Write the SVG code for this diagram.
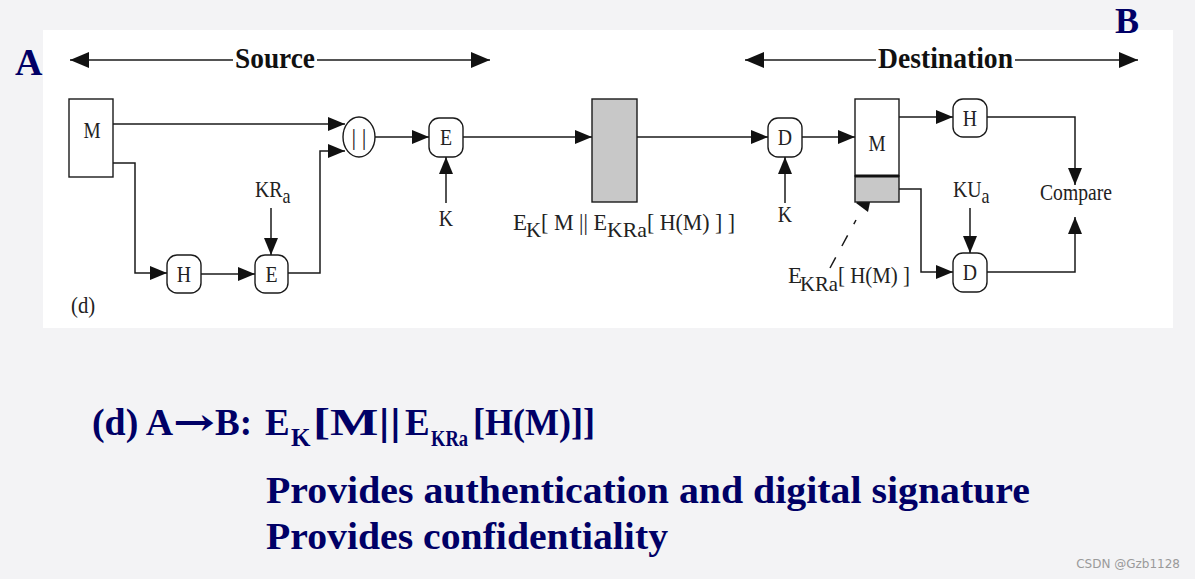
<svg xmlns="http://www.w3.org/2000/svg" width="1195" height="579" viewBox="0 0 1195 579">
<style>
.bg{fill:#f3f3f5}
.panel{fill:#ffffff}
.conn{fill:none;stroke:#1a1a1a;stroke-width:1.5}
.arr{marker-end:url(#ah)}
.node{fill:#ffffff;stroke:#1a1a1a;stroke-width:1.4}
.grey{fill:#c8c8c8;stroke:#1a1a1a;stroke-width:1.4}
.lbl{font-family:"Liberation Serif","Times New Roman",serif;font-size:23px;fill:#222}
.sub{font-size:21px}
.hdr{font-family:"Liberation Serif","Times New Roman",serif;font-size:30px;font-weight:bold;fill:#111}
.nv{font-family:"Liberation Serif","Times New Roman",serif;font-weight:bold;fill:#000066}
.mid{text-anchor:middle}
</style>
<defs>
<marker id="ah" markerUnits="userSpaceOnUse" markerWidth="17" markerHeight="14" refX="17" refY="7" orient="auto">
<path d="M0,0 L17,7 L0,14 z" fill="#111"/>
</marker>
<marker id="ahb" markerUnits="userSpaceOnUse" markerWidth="20" markerHeight="16" refX="19" refY="8" orient="auto-start-reverse">
<path d="M0,0 L19,8 L0,16 z" fill="#111"/>
</marker>
</defs>
<rect class="bg" x="0" y="0" width="1195" height="579"/>
<rect class="panel" x="43" y="30" width="1130" height="298"/>

<text class="nv" x="15" y="75" font-size="38">A</text>
<text class="nv" x="1115" y="33" font-size="36">B</text>

<g id="headers">
<line class="conn" x1="70" y1="60" x2="233" y2="60" style="marker-start:url(#ahb)"/>
<line class="conn" x1="317" y1="60" x2="490" y2="60" style="marker-end:url(#ahb)"/>
<text class="hdr" x="235" y="68" textLength="80" lengthAdjust="spacingAndGlyphs">Source</text>
<line class="conn" x1="745" y1="60" x2="876" y2="60" style="marker-start:url(#ahb)"/>
<line class="conn" x1="1015" y1="60" x2="1138" y2="60" style="marker-end:url(#ahb)"/>
<text class="hdr" x="878" y="68" textLength="135" lengthAdjust="spacingAndGlyphs">Destination</text>
</g>

<g id="connectors">
<path class="conn arr" d="M113,124 H345"/>
<path class="conn arr" d="M113,163 H135 V273 H167"/>
<path class="conn arr" d="M201,274 H255"/>
<path class="conn arr" d="M271,208 V255"/>
<path class="conn arr" d="M288,273 H320 V151 H345"/>
<path class="conn arr" d="M375,137 H429"/>
<path class="conn arr" d="M446,203 V157"/>
<path class="conn arr" d="M463,137 H592"/>
<path class="conn arr" d="M637,137 H768"/>
<path class="conn arr" d="M785,203 V157"/>
<path class="conn arr" d="M802,137 H855"/>
<path class="conn arr" d="M899,117 H953"/>
<path class="conn arr" d="M987,117 H1075 V185"/>
<path class="conn arr" d="M987,272 H1075 V217"/>
<path class="conn arr" d="M970,208 V253"/>
<path class="conn arr" d="M899,189 H921 V272 H953"/>
<path class="conn" d="M830,268 L856,220" stroke-dasharray="12,13"/>
<polygon points="856,203 873,188 868,212" fill="#111"/>
</g>

<g id="node-M-src">
<rect class="node" x="69" y="99" width="44" height="78"/>
<text class="lbl mid" transform="translate(92,138) scale(0.84,1)" font-size="27">M</text>
</g>
<g id="node-H-src">
<rect class="node" x="167" y="255" width="34" height="38" rx="10"/>
<text class="lbl mid" transform="translate(184,282) scale(0.86,1)">H</text>
</g>
<g id="node-E-sig">
<rect class="node" x="255" y="255" width="33" height="38" rx="10"/>
<text class="lbl mid" transform="translate(271.5,282) scale(0.86,1)">E</text>
</g>
<g id="label-KRa">
<text class="lbl" transform="translate(255,197) scale(0.86,1)">KR<tspan class="sub" dy="6">a</tspan></text>
</g>
<g id="node-concat">
<ellipse class="node" cx="359" cy="137" rx="16" ry="20"/>
<text class="lbl mid" x="359" y="145" text-rendering="geometricPrecision">| |</text>
</g>
<g id="node-E-enc">
<rect class="node" x="429" y="118" width="34" height="39" rx="10"/>
<text class="lbl mid" transform="translate(446,145) scale(0.86,1)">E</text>
<text class="lbl mid" transform="translate(446,226) scale(0.86,1)">K</text>
</g>
<g id="node-cipher">
<rect class="grey" x="592" y="99" width="45" height="103"/>
<text class="lbl" y="230"><tspan x="513">E</tspan><tspan class="sub" x="526" dy="7">K</tspan><tspan x="541" dy="-7" textLength="66" lengthAdjust="spacingAndGlyphs">[ M || E</tspan><tspan class="sub" x="607" dy="7" textLength="40" lengthAdjust="spacingAndGlyphs">KRa</tspan><tspan x="647" dy="-7" textLength="88" lengthAdjust="spacingAndGlyphs">[ H(M) ] ]</tspan></text>
</g>
<g id="node-D-dec">
<rect class="node" x="768" y="118" width="34" height="39" rx="10"/>
<text class="lbl mid" transform="translate(785,145) scale(0.86,1)">D</text>
<text class="lbl mid" transform="translate(785,222) scale(0.86,1)">K</text>
</g>
<g id="node-M-dst">
<rect class="node" x="855" y="99" width="44" height="77"/>
<rect class="grey" x="855" y="176" width="44" height="26"/>
<line x1="855" y1="176" x2="899" y2="176" stroke="#111" stroke-width="3"/>
<text class="lbl mid" transform="translate(877,151) scale(0.84,1)" font-size="26">M</text>
</g>
<g id="label-sig">
<text class="lbl" y="283"><tspan x="788">E</tspan><tspan class="sub" x="800" dy="8" textLength="38" lengthAdjust="spacingAndGlyphs">KRa</tspan><tspan x="838" dy="-8" textLength="72" lengthAdjust="spacingAndGlyphs">[ H(M) ]</tspan></text>
</g>
<g id="node-H-dst">
<rect class="node" x="953" y="99" width="34" height="38" rx="10"/>
<text class="lbl mid" transform="translate(970,126) scale(0.86,1)">H</text>
</g>
<g id="node-D-dst">
<rect class="node" x="953" y="253" width="34" height="39" rx="10"/>
<text class="lbl mid" transform="translate(970,280) scale(0.86,1)">D</text>
</g>
<g id="label-KUa">
<text class="lbl" transform="translate(953,197) scale(0.86,1)">KU<tspan class="sub" dy="6">a</tspan></text>
</g>
<g id="node-compare">
<text class="lbl" x="1040" y="200" textLength="72" lengthAdjust="spacingAndGlyphs">Compare</text>
</g>
<text class="lbl" transform="translate(71,313) scale(0.9,1)" font-size="21">(d)</text>

<g id="caption">
<text class="nv" y="435" font-size="37"><tspan x="92" textLength="81" lengthAdjust="spacingAndGlyphs">(d) A</tspan><tspan x="173" textLength="42" lengthAdjust="spacingAndGlyphs" font-family="'DejaVu Serif',serif">→</tspan><tspan x="215">B:</tspan><tspan x="265">E</tspan><tspan x="291" dy="11" font-size="25">K</tspan><tspan x="313" dy="-11" textLength="88" lengthAdjust="spacingAndGlyphs">[M||</tspan><tspan x="405" dy="0">E</tspan><tspan x="431" dy="11" font-size="24" textLength="37" lengthAdjust="spacingAndGlyphs">KRa</tspan><tspan x="473" dy="-11" textLength="122" lengthAdjust="spacingAndGlyphs">[H(M)]]</tspan></text>
<text class="nv" x="266" y="503" font-size="37" textLength="764" lengthAdjust="spacingAndGlyphs">Provides authentication and digital signature</text>
<text class="nv" x="266" y="549" font-size="37" textLength="402" lengthAdjust="spacingAndGlyphs">Provides confidentiality</text>
</g>
<text x="1180" y="568" text-anchor="end" font-family="'DejaVu Sans',sans-serif" font-size="12" fill="#9a9a9a">CSDN @Gzb1128</text>
</svg>
